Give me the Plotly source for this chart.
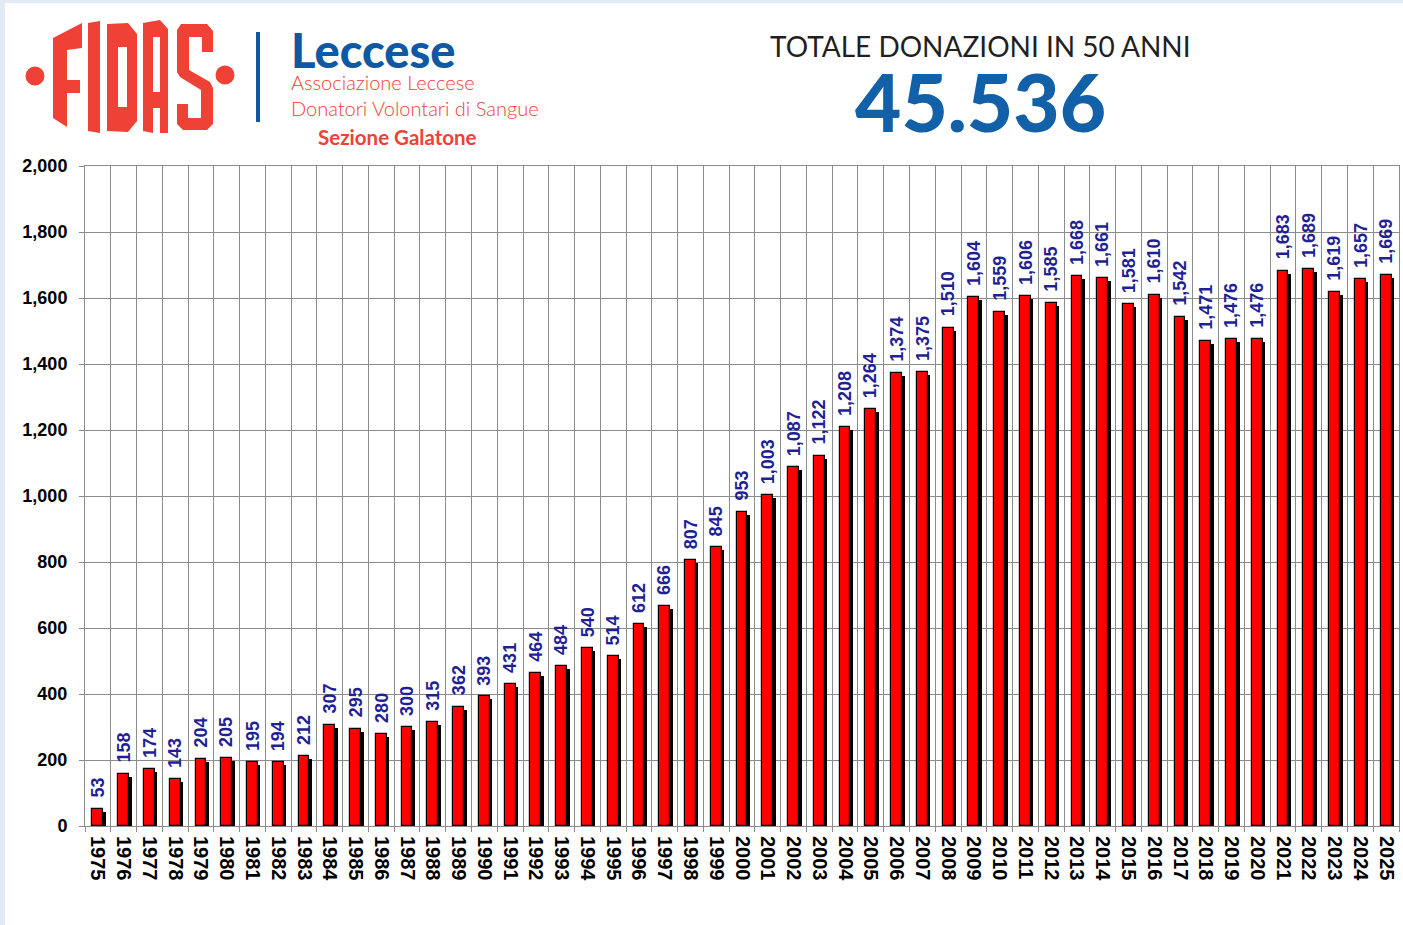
import plotly.graph_objects as go

years = [str(y) for y in range(1975, 2026)]
donations = [53, 158, 174, 143, 204, 205, 195, 194, 212, 307,
             295, 280, 300, 315, 362, 393, 431, 464, 484, 540,
             514, 612, 666, 807, 845, 953, 1003, 1087, 1122, 1208,
             1264, 1374, 1375, 1510, 1604, 1559, 1606, 1585, 1668, 1661,
             1581, 1610, 1542, 1471, 1476, 1476, 1683, 1689, 1619, 1657,
             1669]
y_ticks = [0, 200, 400, 600, 800, 1000, 1200, 1400, 1600, 1800, 2000]
title_text = "TOTALE DONAZIONI IN 50 ANNI"
total_text = "45.536"

W, H = 1403, 925
L, R, T, B = 85, 4, 166, 99
PW, PH = W - L - R, H - T - B


def px(X):
    return (X - L) / PW


def py(Y):
    return (H - B - Y) / PH


def path(points):
    return "M " + " L ".join(f"{px(a):.5f},{py(b):.5f}" for a, b in points) + " Z"


BAR_W = 0.42
SHADOW_DX = 0.1
SHADOW_DY = 2000 / PH * 3  # about 3 px lower

fig = go.Figure()
fig.add_trace(go.Bar(
    x=years, y=[v - SHADOW_DY for v in donations],
    width=BAR_W, offset=-BAR_W / 2 + SHADOW_DX,
    marker=dict(color="#000000", line=dict(width=0)),
    hoverinfo="skip", showlegend=False,
))
fig.add_trace(go.Bar(
    x=years, y=donations,
    width=BAR_W, offset=-BAR_W / 2,
    marker=dict(color="#ff0000", line=dict(color="#000000", width=1.2)),
    showlegend=False,
))

annotations = []
for i, v in enumerate(donations):
    annotations.append(dict(
        x=i, y=v, xref="x", yref="y", text=f"{v:,}", textangle=-90,
        showarrow=False, xanchor="center", yanchor="bottom", yshift=9,
        font=dict(family="Liberation Sans, Arial", size=18, color="#1f1f96", weight="bold"),
    ))

RED = "#ef4136"
BLUE = "#0f58a3"

# header texts
annotations += [
    dict(x=px(289), y=py(50), xref="paper", yref="paper", text="Leccese",
         showarrow=False, xanchor="left", yanchor="middle",
         font=dict(family="Lato", size=47, color=BLUE, weight=900)),
    dict(x=px(289), y=py(82), xref="paper", yref="paper", text="Associazione Leccese",
         showarrow=False, xanchor="left", yanchor="middle",
         font=dict(family="Lato", size=20, color=RED, weight=300)),
    dict(x=px(289), y=py(108), xref="paper", yref="paper", text="Donatori Volontari di Sangue",
         showarrow=False, xanchor="left", yanchor="middle",
         font=dict(family="Lato", size=20, color=RED, weight=300)),
    dict(x=px(397), y=py(137), xref="paper", yref="paper", text="Sezione Galatone",
         showarrow=False, xanchor="center", yanchor="middle",
         font=dict(family="Lato", size=20.5, color=RED, weight="bold")),
    dict(x=px(980), y=py(46), xref="paper", yref="paper", text=title_text,
         showarrow=False, xanchor="center", yanchor="middle",
         font=dict(family="Lato", size=28, color="#231f20")),
    dict(x=px(980), y=py(101), xref="paper", yref="paper", text=total_text,
         showarrow=False, xanchor="center", yanchor="middle",
         font=dict(family="Lato", size=80, color="#1160a8", weight=900)),
]

shapes = [
    # light blue frame strips
    dict(type="rect", xref="paper", yref="paper", x0=px(0), x1=px(5), y0=py(H), y1=py(0),
         fillcolor="#e2eaf5", line=dict(width=0), layer="below"),
    dict(type="rect", xref="paper", yref="paper", x0=px(0), x1=px(W), y0=py(3), y1=py(0),
         fillcolor="#e2eaf5", line=dict(width=0), layer="below"),
    # separator
    dict(type="line", xref="paper", yref="paper", x0=px(258), x1=px(258), y0=py(32), y1=py(122),
         line=dict(color=BLUE, width=4)),
]

# FIDAS logo (decorative)
logo = [
    [(53, 38), (82, 23), (82, 48), (67, 50), (67, 80), (80, 80), (80, 93), (67, 93), (67, 127), (53, 118)],
    [(88, 23), (100, 21), (100, 133), (88, 131)],
    [(107, 24), (128, 23), (137, 34), (137, 121), (128, 132), (107, 131)],
    [(143, 23), (160, 20), (168, 29), (168, 133), (160, 133), (160, 108), (153, 108), (153, 133), (143, 131)],
    [(181, 24), (207, 24), (213, 31), (213, 52), (202, 52), (202, 37), (189, 37), (189, 70), (210, 82),
     (213, 88), (213, 124), (207, 130), (183, 130), (177, 124), (177, 104), (188, 104), (188, 118),
     (201, 118), (201, 90), (180, 77), (177, 72), (177, 30)],
]
for pts in logo:
    shapes.append(dict(type="path", xref="paper", yref="paper", path=path(pts),
                       fillcolor=RED, line=dict(width=0)))
# holes in D and A
for pts in [[(118, 47), (127, 47), (127, 107), (118, 107)], [(153, 37), (160, 37), (160, 92), (153, 92)]]:
    shapes.append(dict(type="path", xref="paper", yref="paper", path=path(pts),
                       fillcolor="#ffffff", line=dict(width=0)))
for cx, cy in [(35, 76), (225, 75)]:
    shapes.append(dict(type="circle", xref="paper", yref="paper",
                       x0=px(cx - 9.5), x1=px(cx + 9.5), y0=py(cy + 9.5), y1=py(cy - 9.5),
                       fillcolor=RED, line=dict(width=0)))

GRID = "#8c8c8c"
fig.update_layout(
    width=W, height=H,
    margin=dict(l=L, r=R, t=T, b=B, pad=0),
    paper_bgcolor="#ffffff", plot_bgcolor="#ffffff",
    barmode="overlay", bargap=0,
    showlegend=False,
    annotations=annotations,
    shapes=shapes,
    xaxis=dict(
        type="category", categoryorder="array", categoryarray=years,
        tickson="boundaries", ticks="outside", ticklen=5, tickcolor=GRID, tickwidth=1,
        showgrid=True, gridcolor=GRID, gridwidth=1,
        showline=True, linecolor=GRID, linewidth=1, mirror=True,
        tickangle=90, ticklabelstandoff=5,
        tickfont=dict(family="Liberation Sans, Arial", size=20, color="#000000", weight="bold"),
        range=[-0.5, len(years) - 0.5], fixedrange=True,
    ),
    yaxis=dict(
        range=[0, 2000], tickvals=y_ticks, tickformat=",d",
        ticks="outside", ticklen=5, tickcolor=GRID,
        showgrid=True, gridcolor=GRID, gridwidth=1,
        showline=True, linecolor=GRID, linewidth=1, mirror=True,
        zeroline=False, ticklabelstandoff=8,
        tickfont=dict(family="Liberation Sans, Arial", size=18, color="#000000", weight="bold"),
        fixedrange=True,
    ),
)

fig.write_html("out.html")
